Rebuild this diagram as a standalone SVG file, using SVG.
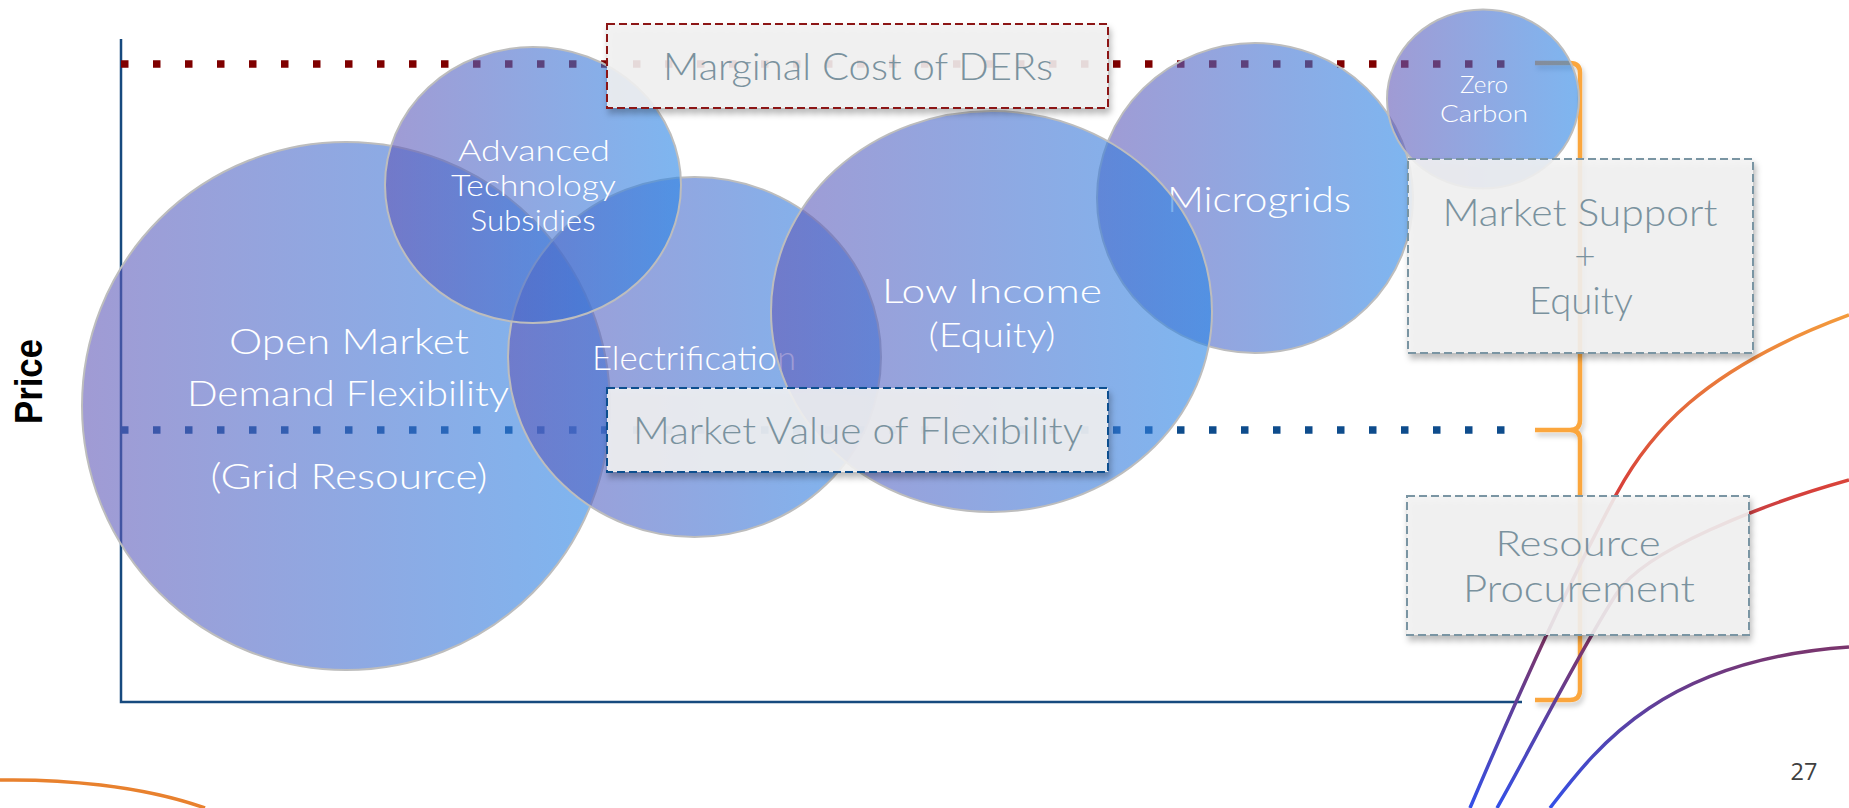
<svg xmlns="http://www.w3.org/2000/svg" width="1849" height="808" viewBox="0 0 1849 808">
<defs>
  <linearGradient id="bubble" x1="0" y1="0" x2="1" y2="0">
    <stop offset="0" stop-color="#6158b7"/>
    <stop offset="1" stop-color="#2885e6"/>
  </linearGradient>
  <linearGradient id="curve" gradientUnits="userSpaceOnUse" x1="0" y1="315" x2="0" y2="808">
    <stop offset="0" stop-color="#f39a3c"/>
    <stop offset="0.35" stop-color="#d8413a"/>
    <stop offset="0.66" stop-color="#7d3468"/>
    <stop offset="1" stop-color="#3350e8"/>
  </linearGradient>
  <filter id="shadow" x="-10%" y="-10%" width="120%" height="130%">
    <feDropShadow dx="2" dy="5" stdDeviation="3" flood-color="#000" flood-opacity="0.3"/>
  </filter>
  <filter id="bshadow" x="-50%" y="-5%" width="200%" height="110%">
    <feDropShadow dx="2" dy="4" stdDeviation="2.5" flood-color="#000" flood-opacity="0.2"/>
  </filter>
</defs>
<style>
  .bub { fill: url(#bubble); fill-opacity: 0.6; stroke: #bdbdbd; stroke-width: 2; }
  .lbl { font-family: Lato, "Liberation Sans", sans-serif; font-weight: 300; fill: #ffffff; text-anchor: middle; }
  .box { fill: #f2f2f2; fill-opacity: 0.88; stroke-width: 2; stroke-dasharray: 8 4; filter: url(#shadow); }
  .btxt { font-family: Lato, "Liberation Sans", sans-serif; font-weight: 300; fill: #7a929e; text-anchor: middle; }
  .dots { fill: none; stroke-width: 7.5; stroke-dasharray: 7.5 24.5; }
  .axis { fill: none; stroke: #174a7e; stroke-width: 2.5; }
  .crv { fill: none; stroke: url(#curve); stroke-width: 3.5; }
</style>
<rect x="0" y="0" width="1849" height="808" fill="#ffffff"/>

<g id="connectors">
  <path class="axis" d="M121,39 L121,702 L1522,702"/>
  <path class="dots" stroke="#7f0000" d="M121,64 L1506,64"/>
  <path class="dots" stroke="#0e4c8c" d="M121,430 L1506,430"/>
  <path id="brace" fill="none" stroke="#fba63c" stroke-width="4.5" filter="url(#bshadow)" d="M1535,63 L1570,63 Q1580,63 1580,73 L1580,420 Q1580,430 1570,430 L1535,430 M1570,430 Q1580,430 1580,440 L1580,690 Q1580,700 1570,700 L1535,700"/>
  <path class="crv" d="M1470,808 C1520,690 1570,580 1617,493 C1648,436 1700,370 1849,315"/>
  <path class="crv" d="M1497,808 C1530,750 1580,650 1617,593 C1645,550 1760,505 1849,480"/>
  <path class="crv" d="M1550,808 C1595,750 1660,660 1849,647"/>
  <path fill="none" stroke="#e8812e" stroke-width="3.5" d="M0,780 C60,779 140,785 205,808"/>
</g>

<g id="open-market">
  <circle class="bub" cx="346" cy="406" r="264"/>
  <text class="lbl" x="349" y="354" font-size="36" textLength="240" lengthAdjust="spacingAndGlyphs">Open Market</text>
  <text class="lbl" x="348" y="406" font-size="36" textLength="322" lengthAdjust="spacingAndGlyphs">Demand Flexibility</text>
  <text class="lbl" x="349" y="489" font-size="36" textLength="277" lengthAdjust="spacingAndGlyphs">(Grid Resource)</text>
</g>

<g id="electrification">
  <ellipse class="bub" cx="694.5" cy="357" rx="186.5" ry="180"/>
  <text class="lbl" x="694" y="370" font-size="33" textLength="204" lengthAdjust="spacingAndGlyphs">Electrification</text>
</g>

<g id="advanced-technology">
  <ellipse class="bub" cx="533" cy="185" rx="148" ry="138"/>
  <text class="lbl" x="534" y="161" font-size="29" textLength="152" lengthAdjust="spacingAndGlyphs">Advanced</text>
  <text class="lbl" x="533.5" y="196" font-size="29" textLength="165" lengthAdjust="spacingAndGlyphs">Technology</text>
  <text class="lbl" x="533" y="231" font-size="29" textLength="125" lengthAdjust="spacingAndGlyphs">Subsidies</text>
</g>

<g id="microgrids">
  <ellipse class="bub" cx="1255" cy="198" rx="158" ry="155"/>
  <text class="lbl" x="1259" y="212" font-size="36" textLength="184" lengthAdjust="spacingAndGlyphs">Microgrids</text>
</g>

<g id="low-income">
  <ellipse class="bub" cx="991.5" cy="311.5" rx="220.5" ry="200.5"/>
  <text class="lbl" x="992" y="303" font-size="33" textLength="220" lengthAdjust="spacingAndGlyphs">Low Income</text>
  <text class="lbl" x="992" y="347" font-size="33" textLength="127" lengthAdjust="spacingAndGlyphs">(Equity)</text>
</g>

<g id="zero-carbon">
  <ellipse class="bub" cx="1483" cy="99" rx="96" ry="89.5"/>
  <text class="lbl" x="1484" y="93" font-size="23" textLength="48" lengthAdjust="spacingAndGlyphs">Zero</text>
  <text class="lbl" x="1484" y="122" font-size="24" textLength="88" lengthAdjust="spacingAndGlyphs">Carbon</text>
</g>

<g id="marginal-cost">
  <rect class="box" x="607" y="24" width="501" height="84" stroke="#8c1515"/>
  <text class="btxt" x="858" y="80" font-size="37" textLength="390" lengthAdjust="spacingAndGlyphs">Marginal Cost of DERs</text>
</g>

<g id="market-value">
  <rect class="box" x="607" y="388" width="501" height="84" stroke="#114f8f"/>
  <text class="btxt" x="858" y="444" font-size="37" textLength="450" lengthAdjust="spacingAndGlyphs">Market Value of Flexibility</text>
</g>

<g id="market-support">
  <rect class="box" x="1408" y="159" width="345" height="194" stroke="#7a95a3"/>
  <text class="btxt" x="1580" y="226" font-size="37" textLength="275" lengthAdjust="spacingAndGlyphs">Market Support</text>
  <text class="btxt" x="1585" y="269" font-size="37">+</text>
  <text class="btxt" x="1581" y="314" font-size="37" textLength="104" lengthAdjust="spacingAndGlyphs">Equity</text>
</g>

<g id="resource-procurement">
  <rect class="box" x="1407" y="496" width="342" height="139" stroke="#7a95a3"/>
  <text class="btxt" x="1578" y="556" font-size="36" textLength="165" lengthAdjust="spacingAndGlyphs">Resource</text>
  <text class="btxt" x="1579" y="602" font-size="37" textLength="232" lengthAdjust="spacingAndGlyphs">Procurement</text>
</g>

<g id="price-label">
  <text transform="translate(42,381.5) rotate(-90)" x="0" y="0" font-family="'Liberation Sans', Arial, sans-serif" font-weight="bold" font-size="38" text-anchor="middle" fill="#000000" textLength="85" lengthAdjust="spacingAndGlyphs">Price</text>
</g>

<g id="page-number">
  <text x="1804" y="780" font-family="'Open Sans', 'Noto Sans', sans-serif" font-size="23.5" text-anchor="middle" fill="#404040">27</text>
</g>
</svg>
